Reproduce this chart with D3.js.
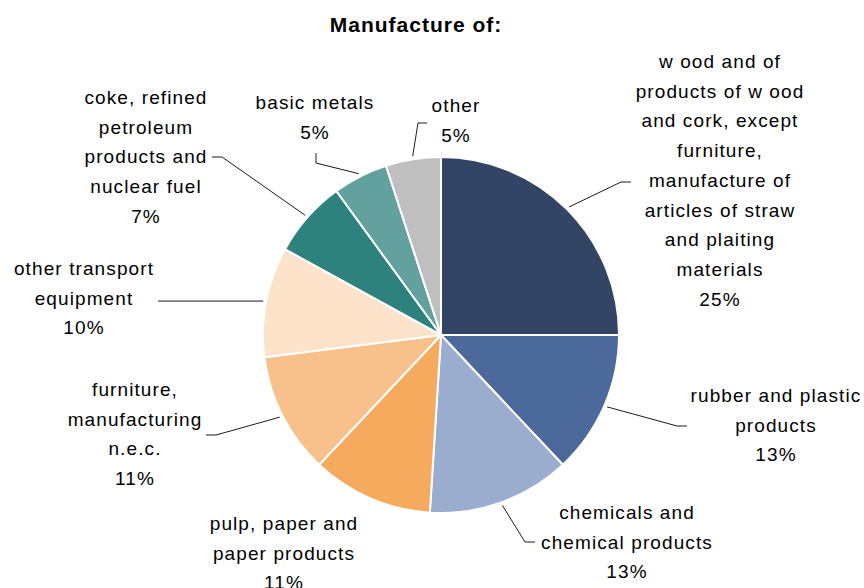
<!DOCTYPE html>
<html>
<head>
<meta charset="utf-8">
<script src="https://cdn.jsdelivr.net/npm/d3@7/dist/d3.min.js"></script>
<style>
  html, body { margin: 0; padding: 0; background: #ffffff; }
  svg { display: block; }
  text { font-family: "Liberation Sans", Arial, sans-serif; fill: #000; }
</style>
</head>
<body>
<script>
// Industry categories (clockwise from 12 o'clock) and their shares in %
const categories = [
  "w ood and of products of w ood and cork, except furniture, manufacture of articles of straw and plaiting materials",
  "rubber and plastic products",
  "chemicals and chemical products",
  "pulp, paper and paper products",
  "furniture, manufacturing n.e.c.",
  "other transport equipment",
  "coke, refined petroleum products and nuclear fuel",
  "basic metals",
  "other"
];
const shares = [25, 13, 13, 11, 11, 10, 7, 5, 5];
const valueLabels = ["25%", "13%", "13%", "11%", "11%", "10%", "7%", "5%", "5%"];

// Label text broken into lines as they are set beside the pie
const labelLines = [
  ["w ood and of", "products of w ood", "and cork, except", "furniture,", "manufacture of", "articles of straw", "and plaiting", "materials"],
  ["rubber and plastic", "products"],
  ["chemicals and", "chemical products"],
  ["pulp, paper and", "paper products"],
  ["furniture,", "manufacturing", "n.e.c."],
  ["other transport", "equipment"],
  ["coke, refined", "petroleum", "products and", "nuclear fuel"],
  ["basic metals"],
  ["other"]
];

const colors = ["#334565", "#4b699b", "#9aadcf", "#f5aa5e", "#f8c08a", "#fde3c9", "#2e827e", "#63a19e", "#bfbfbf"];

// Layout of the label blocks: centre x, first line centre y, and leader path points after the slice edge
const labelLayout = [
  { x: 720, y: 61,  leader: [[621, 182], [631, 182]] },
  { x: 776, y: 395, leader: [[677, 426], [687, 426]] },
  { x: 627, y: 512, leader: [[525, 542], [535, 542]] },
  { x: 284, y: 523, leader: null },
  { x: 135, y: 389, leader: [[216, 435], [206, 435]] },
  { x: 84,  y: 268, leader: "flat", end: 158 },
  { x: 146, y: 97,  leader: [[222, 157], [212, 157]] },
  { x: 315, y: 102, leader: [[316, 163], [316, 153]] },
  { x: 456, y: 105, leader: [[418, 123], [427, 123]] }
];

const W = 864, H = 588;
const cx = 441, cy = 335, R = 178;
const lineGap = 29.7;

const svg = d3.select("body").append("svg")
  .attr("width", W).attr("height", H);

svg.append("text")
  .attr("x", 416).attr("y", 32)
  .attr("text-anchor", "middle")
  .style("font-size", "21px")
  .style("font-weight", "bold")
  .style("letter-spacing", "1px")
  .text("Manufacture of:");

const pie = d3.pie().sort(null).value(d => d)(shares);
const arc = d3.arc().innerRadius(0).outerRadius(R);
const edgeArc = d3.arc().innerRadius(R + 3).outerRadius(R + 3);

const g = svg.append("g").attr("transform", `translate(${cx},${cy})`);

g.selectAll("path.slice")
  .data(pie)
  .join("path")
  .attr("class", "slice")
  .attr("d", arc)
  .attr("fill", (d, i) => colors[i])
  .attr("stroke", "#ffffff")
  .attr("stroke-width", 2)
  .attr("stroke-linejoin", "round");

// Leader lines from the slice edge to each label
pie.forEach((d, i) => {
  const lay = labelLayout[i];
  if (!lay.leader) return;
  const c = edgeArc.centroid(d);
  const start = [cx + c[0], cy + c[1]];
  const rest = lay.leader === "flat" ? [[lay.end, start[1]]] : lay.leader;
  svg.append("path")
    .attr("d", d3.line()([start].concat(rest)))
    .attr("fill", "none")
    .attr("stroke", "#000")
    .attr("stroke-width", 0.9);
});

// Category labels with their percentages
labelLines.forEach((lines, i) => {
  const lay = labelLayout[i];
  const t = svg.append("text")
    .attr("text-anchor", "middle")
    .style("font-size", "19px")
    .style("letter-spacing", "1.1px");
  lines.concat([valueLabels[i]]).forEach((ln, k) => {
    t.append("tspan")
      .attr("x", lay.x)
      .attr("y", lay.y + k * lineGap + 7)
      .text(ln);
  });
});
</script>
</body>
</html>
